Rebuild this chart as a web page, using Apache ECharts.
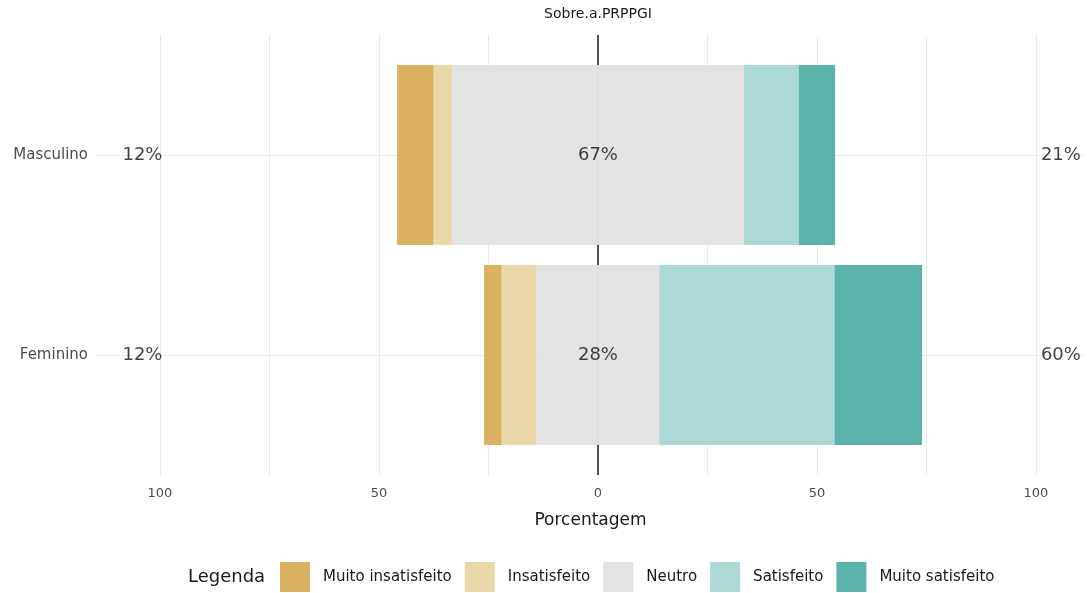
<!DOCTYPE html>
<html>
<head>
<meta charset="utf-8">
<title>Sobre.a.PRPPGI</title>
<script src="https://cdn.jsdelivr.net/npm/echarts@6/dist/echarts.min.js"></script>
<style>
  html, body { margin: 0; padding: 0; background: #fff; }
  #myChart { width: 1087px; height: 593px; }
</style>
</head>
<body>
<div id="myChart"></div>
<script>
// dados (%)
const categorias = ['Masculino', 'Feminino']
const muitoInsatisfeito = [8.3, 4]
const insatisfeito = [4.2, 8]
const neutro = [66.7, 28]
const satisfeito = [12.5, 40]
const muitoSatisfeito = [8.3, 20]
// rótulos de porcentagem (esquerda / neutro / direita)
const pctEsquerda = [12, 12]
const pctNeutro = [67, 28]
const pctDireita = [21, 60]
const ticksLabel = [-100, -50, 0, 50, 100]
const ticksGrade = [-100, -75, -50, -25, 0, 25, 50, 75, 100]
const legenda = ['Muito insatisfeito', 'Insatisfeito', 'Neutro', 'Satisfeito', 'Muito satisfeito']

const cores = {
  'Muito insatisfeito': '#d9b160',
  'Insatisfeito': '#ebd8aa',
  'Neutro': '#e3e3e3',
  'Satisfeito': '#acd8d5',
  'Muito satisfeito': '#5ab2a8'
}

const fonte = 'DejaVu Sans'
const xMin = -114.6
const xMax = 111.2

const myChart = echarts.init(document.getElementById('myChart'))

function barra(nome, valores, sinal) {
  return {
    name: nome,
    type: 'bar',
    xAxisIndex: 1,
    yAxisIndex: 1,
    stack: 'likert',
    barWidth: '90%',
    z: 3,
    silent: true,
    itemStyle: { color: cores[nome] },
    data: valores.map(v => sinal * v)
  }
}

function rotulos(valores, x) {
  return {
    type: 'scatter',
    xAxisIndex: 1,
    yAxisIndex: 1,
    symbolSize: 0,
    z: 5,
    silent: true,
    label: {
      show: true,
      position: 'inside',
      formatter: p => p.data[2] + '%',
      color: '#111',
      fontFamily: fonte,
      fontSize: 18
    },
    data: valores.map((v, i) => [x, categorias[i], v])
  }
}

myChart.setOption({
  animation: false,
  textStyle: { fontFamily: fonte },
  grid: [
    { left: 96, width: 989, top: 35, height: 440 },
    { left: 96, width: 989, top: 55, height: 400 }
  ],
  graphic: [
    {
      type: 'text',
      x: 598,
      y: 14,
      style: {
        text: 'Sobre.a.PRPPGI',
        align: 'center',
        verticalAlign: 'middle',
        font: '14px "DejaVu Sans"',
        fill: '#1a1a1a'
      }
    },
    {
      type: 'text',
      x: 188,
      y: 577,
      style: {
        text: 'Legenda',
        align: 'left',
        verticalAlign: 'middle',
        font: '18px "DejaVu Sans"',
        fill: '#1a1a1a'
      }
    }
  ],
  legend: {
    data: legenda,
    left: 280,
    top: 562,
    padding: 0,
    itemWidth: 30,
    itemHeight: 30,
    itemGap: 13,
    icon: 'rect',
    selectedMode: false,
    textStyle: {
      fontFamily: fonte,
      fontSize: 15,
      color: '#1a1a1a',
      padding: [0, 0, 0, 8]
    }
  },
  xAxis: [
    {
      gridIndex: 0,
      type: 'value',
      min: xMin,
      max: xMax,
      name: 'Porcentagem',
      nameLocation: 'middle',
      nameGap: 37,
      nameTextStyle: { fontFamily: fonte, fontSize: 17, color: '#1a1a1a' },
      axisLine: { show: false },
      axisTick: { show: false, customValues: ticksGrade },
      axisLabel: {
        customValues: ticksLabel,
        formatter: v => String(Math.abs(v)),
        margin: 12,
        fontSize: 13,
        color: '#4d4d4d',
        fontFamily: fonte
      },
      splitLine: { show: true, lineStyle: { color: '#ebebeb', width: 1 } }
    },
    {
      gridIndex: 1,
      type: 'value',
      min: xMin,
      max: xMax,
      show: false
    }
  ],
  yAxis: [
    {
      gridIndex: 0,
      type: 'value',
      min: 0,
      max: 2.2,
      inverse: true,
      axisLine: { show: false },
      axisTick: { show: false, customValues: [0.6, 1.6] },
      axisLabel: { show: false },
      splitLine: { show: true, lineStyle: { color: '#ebebeb', width: 1 } }
    },
    {
      gridIndex: 1,
      type: 'category',
      data: categorias,
      inverse: true,
      axisLine: { show: false },
      axisTick: { show: false },
      splitLine: { show: false },
      axisLabel: {
        margin: 8,
        fontSize: 15,
        color: '#4d4d4d',
        fontFamily: fonte
      }
    }
  ],
  series: [
    {
      // linha vertical no zero, por baixo das barras
      type: 'line',
      xAxisIndex: 0,
      yAxisIndex: 0,
      data: [[0, 0]],
      showSymbol: false,
      silent: true,
      z: 1,
      markLine: {
        z: 1,
        symbol: 'none',
        silent: true,
        label: { show: false },
        lineStyle: { color: '#1a1a1a', width: 1.5, type: 'solid' },
        data: [{ xAxis: 0 }]
      }
    },
    barra('Neutro', neutro.map(v => v / 2), -1),
    barra('Neutro', neutro.map(v => v / 2), 1),
    barra('Insatisfeito', insatisfeito, -1),
    barra('Satisfeito', satisfeito, 1),
    barra('Muito insatisfeito', muitoInsatisfeito, -1),
    barra('Muito satisfeito', muitoSatisfeito, 1),
    rotulos(pctEsquerda, -104),
    rotulos(pctNeutro, 0),
    rotulos(pctDireita, 105.7)
  ]
})

window.addEventListener('resize', () => myChart.resize())
</script>
</body>
</html>
